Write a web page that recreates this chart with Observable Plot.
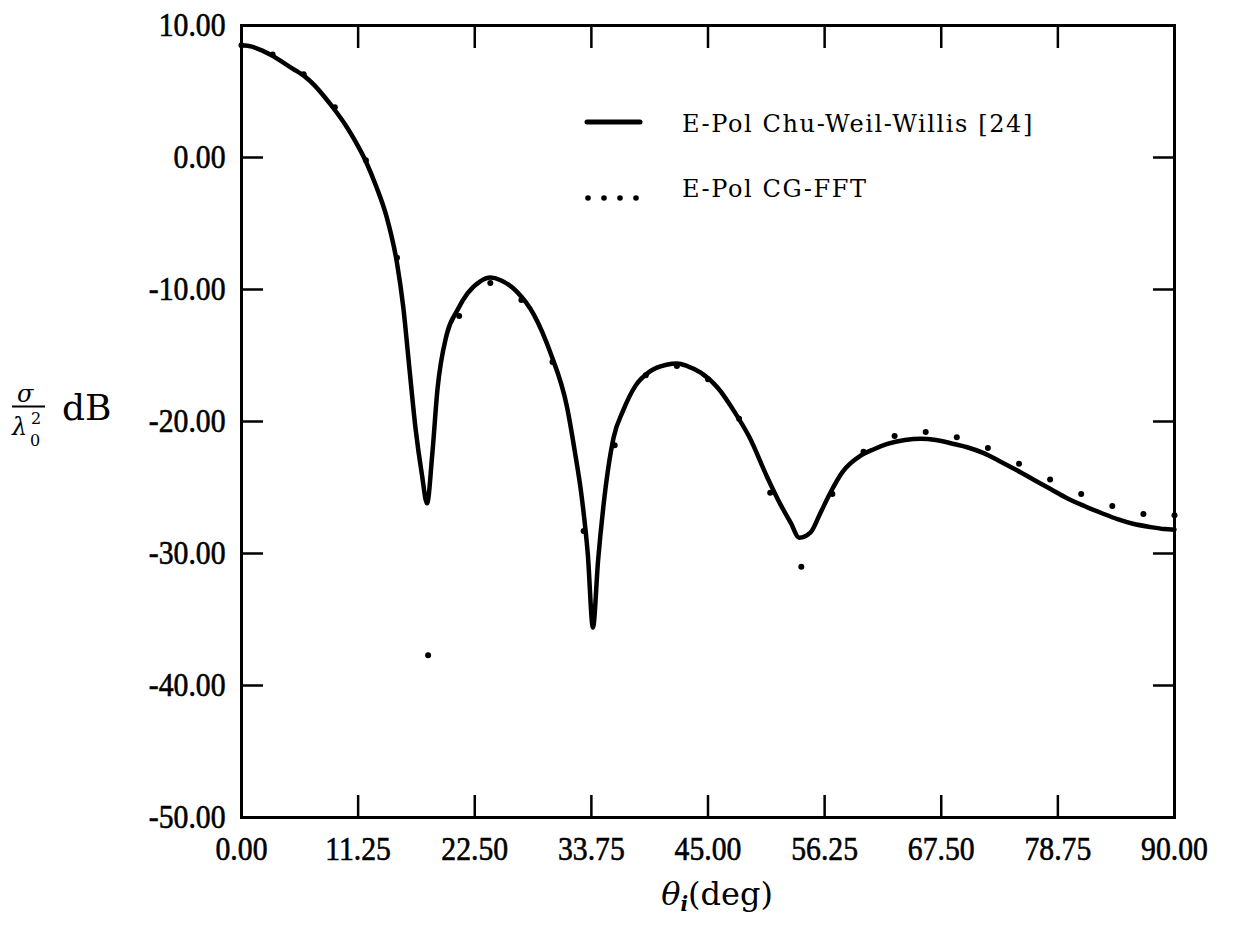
<!DOCTYPE html>
<html><head><meta charset="utf-8">
<script src="https://cdn.jsdelivr.net/npm/d3@7"></script>
<script src="https://cdn.jsdelivr.net/npm/@observablehq/plot@0.6"></script>
<style>
body{margin:0;background:#fff;}
#wrap{position:relative;width:1237px;height:931px;font-family:"DejaVu Serif","Liberation Serif",serif;color:#000;}
#overlay{position:absolute;left:0;top:0;pointer-events:none;}
</style></head><body><div id="wrap"></div>
<script>
// solid curve: E-Pol Chu-Weil-Willis [24]
const lineTheta = [0,1,2,3,4,5,6,7,8,9,10,11,12,13,14,15,15.6,16.2,16.8,17.4,17.9,18.4,18.9,19.8,20.8,21.8,23,24,25,26.6,28.2,29.8,31.4,32.2,32.8,33.4,33.9,34.4,34.9,35.9,36.8,38,39.4,41,42,43,44.3,46,47.5,49,50.7,52,53,53.8,54.9,55.8,56.8,58,59.7,61,62.3,64,65.5,67,68.7,70,71.6,73,74.8,76.5,78,79.5,81.3,83,84.5,86,87.7,89,90];
const lineDb = [8.5,8.4,8.1,7.7,7.2,6.7,6.2,5.5,4.6,3.6,2.5,1.2,-0.3,-2.2,-4.5,-8.0,-11.3,-16.0,-20.6,-24.0,-26.2,-22.5,-17.6,-13.4,-11.6,-10.3,-9.4,-9.1,-9.3,-10.2,-11.9,-14.8,-18.9,-22.5,-25.6,-30.0,-35.6,-30.5,-26.5,-21.2,-19.2,-17.3,-16.2,-15.7,-15.6,-15.8,-16.3,-17.5,-19.2,-21.2,-24.2,-26.3,-27.7,-28.8,-28.4,-27.0,-25.4,-23.8,-22.6,-22.1,-21.7,-21.4,-21.3,-21.4,-21.7,-21.95,-22.4,-22.95,-23.7,-24.45,-25.1,-25.75,-26.4,-26.95,-27.4,-27.75,-28.0,-28.15,-28.2];
// dotted: E-Pol CG-FFT
const fftTheta = [0,3,6,9,12,15,18,21,24,27,30,33,36,39,42,45,48,51,54,57,60,63,66,69,72,75,78,81,84,87,90];
const fftDb = [8.5,7.8,6.3,3.8,-0.2,-7.6,-37.7,-12.0,-9.5,-10.8,-15.5,-28.3,-21.8,-16.5,-15.8,-16.8,-19.8,-25.4,-31.0,-25.5,-22.3,-21.1,-20.8,-21.2,-22.0,-23.2,-24.4,-25.5,-26.4,-27.0,-27.1];
const xTicks = [0,11.25,22.5,33.75,45,56.25,67.5,78.75,90];
const yTicks = [10,0,-10,-20,-30,-40,-50];
const seriesNames = ["E-Pol Chu-Weil-Willis [24]","E-Pol CG-FFT"];

const lineData = lineTheta.map((t,i)=>({theta:t, db:lineDb[i]}));
const fftData = fftTheta.map((t,i)=>({theta:t, db:fftDb[i]}));
const fmt = d => d.toFixed(2);
const tf = {fontSize:33, fontFamily:"Liberation Serif", fontWeight:"normal"};

const chart = Plot.plot({
  width:1237, height:931,
  marginLeft:241, marginRight:63, marginTop:25, marginBottom:114,
  x:{domain:[0,90]},
  y:{domain:[-50,10]},
  style:{background:"white", color:"black", fontFamily:"Liberation Serif"},
  marks:[
    Plot.axisX(xTicks, {anchor:"bottom", tickSize:-22, tickPadding:41, strokeWidth:2.5, tickFormat:fmt, label:null, ...tf}),
    Plot.axisX(xTicks, {anchor:"top", tickSize:-22, strokeWidth:2.5, tickFormat:()=>"", label:null}),
    Plot.axisY(yTicks, {anchor:"left", tickSize:-22, tickPadding:38, strokeWidth:2.5, tickFormat:fmt, label:null, ...tf}),
    Plot.axisY(yTicks, {anchor:"right", tickSize:-22, strokeWidth:2.5, tickFormat:()=>"", label:null}),
    Plot.frame({stroke:"black", strokeWidth:3}),
    Plot.line(lineData, {x:"theta", y:"db", stroke:"black", strokeWidth:4.5, curve:"monotone-x"}),
    Plot.dot(fftData, {x:"theta", y:"db", r:3, fill:"black", stroke:null})
  ]
});
const wrap = document.getElementById("wrap");
wrap.appendChild(chart);
// condense and slightly darken tick label glyphs
chart.querySelectorAll('g[aria-label="x-axis tick label"] text, g[aria-label="y-axis tick label"] text').forEach(t=>{
  const tr = t.getAttribute("transform");
  if (tr) t.setAttribute("transform", tr + " scale(0.9,1)");
  t.style.stroke = "black";
  t.style.strokeWidth = "0.6px";
});

// legend and axis titles
const ov = document.createElementNS("http://www.w3.org/2000/svg","svg");
ov.setAttribute("id","overlay");
ov.setAttribute("width","1237");
ov.setAttribute("height","931");
ov.innerHTML = `
  <line x1="587" y1="122" x2="640" y2="122" stroke="black" stroke-width="5" stroke-linecap="round"/>
  <circle cx="588" cy="198" r="2.8"/><circle cx="604" cy="198" r="2.8"/><circle cx="620" cy="198" r="2.8"/><circle cx="636" cy="198" r="2.8"/>
  <g font-family="DejaVu Serif" font-size="24" letter-spacing="1.6" fill="black">
    <text x="682" y="132">${seriesNames[0]}</text>
    <text x="682" y="197">${seriesNames[1]}</text>
  </g>
  <g font-family="DejaVu Serif" fill="black">
    <text x="17" y="402" font-size="24" font-style="italic">σ</text>
    <line x1="12" y1="406.5" x2="45" y2="406.5" stroke="black" stroke-width="2.2"/>
    <text x="12" y="435" font-size="24" font-style="italic">λ</text>
    <text x="31" y="424" font-size="16">2</text>
    <text x="30" y="446" font-size="16">0</text>
    <text x="62" y="420" font-size="36">dB</text>
    <text x="717" y="905" text-anchor="middle" font-size="32"><tspan font-style="italic">θ</tspan><tspan font-style="italic" font-weight="bold" font-size="20" dy="6">i</tspan><tspan dy="-6">(deg)</tspan></text>
  </g>
`;
wrap.appendChild(ov);
</script>
</body></html>
